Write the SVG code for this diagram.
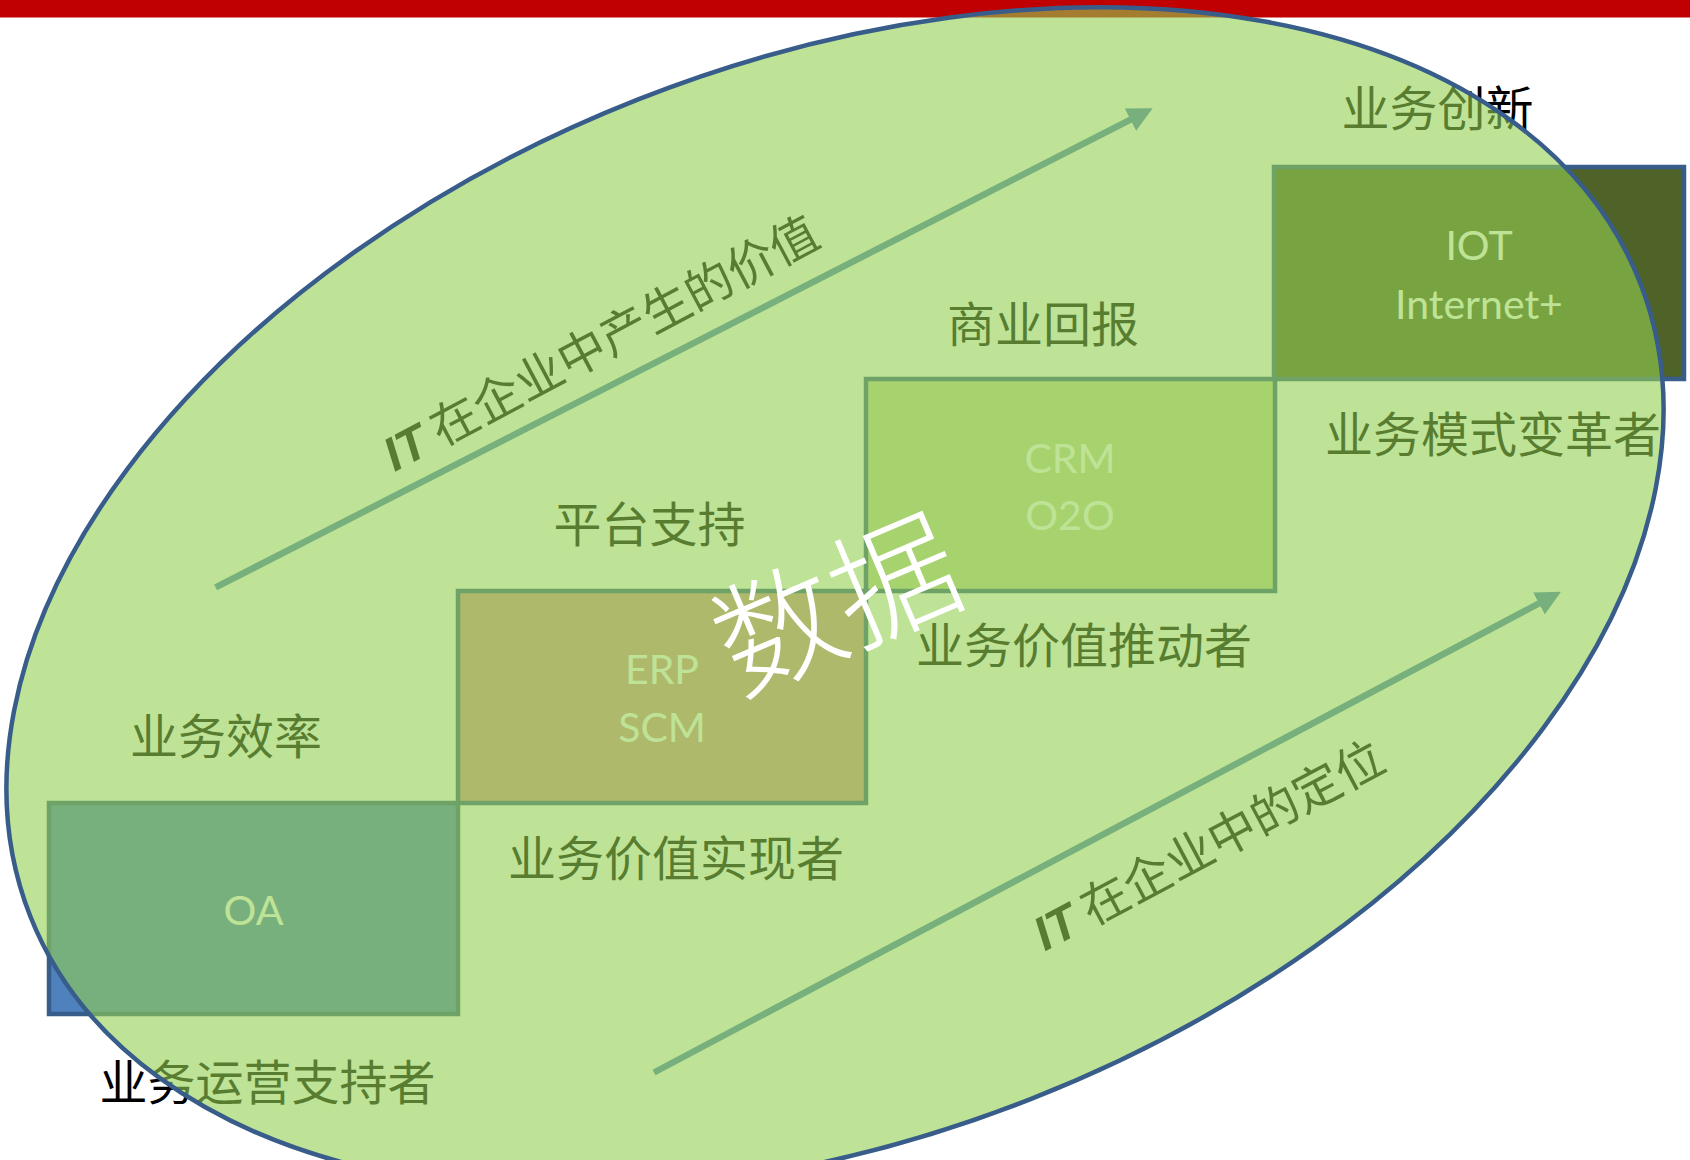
<svg xmlns="http://www.w3.org/2000/svg" width="1690" height="1160" viewBox="0 0 1690 1160">
  <defs>
    <style>
      .box { stroke:#385D8A; stroke-width:4.5; }
      .bt { font-family: Lato, 'Open Sans', sans-serif; font-size:41px; fill:#ffffff; text-anchor:middle; }
      .lbl { font-family: 'Noto Sans CJK SC', sans-serif; font-size:48px; fill:#000000; text-anchor:middle; }
      .it { font-family: 'Liberation Sans', sans-serif; font-weight:bold; font-style:italic; }
      .arr { stroke:#4F81BD; stroke-width:6.5; fill:none; marker-end:url(#ah); }
    </style>
    <marker id="ah" viewBox="0 -13 26 26" markerUnits="userSpaceOnUse" markerWidth="26" markerHeight="26" refX="5" refY="0" orient="auto">
      <path d="M0,-12.5 L25,0 L0,12.5 z" fill="#4F81BD"/>
    </marker>
  </defs>

  <rect id="topbar" x="0" y="0" width="1690" height="17.5" fill="#C00000"/>

  <g id="node-oa">
    <rect class="box" x="49" y="803" width="409" height="211" fill="#4F81BD"/>
    <text class="bt" x="253.5" y="925">OA</text>
  </g>
  <g id="node-erp">
    <rect class="box" x="458" y="591" width="408" height="212" fill="#D99694"/>
    <text class="bt" x="662" y="684">ERP</text>
    <text class="bt" x="662" y="742">SCM</text>
  </g>
  <g id="node-crm">
    <rect class="box" x="866" y="379" width="409" height="212" fill="#C3D69B"/>
    <text class="bt" x="1070" y="473">CRM</text>
    <text class="bt" x="1070" y="530">O2O</text>
  </g>
  <g id="node-iot">
    <rect class="box" x="1274" y="167" width="410" height="212" fill="#4F6228"/>
    <text class="bt" x="1479" y="260">IOT</text>
    <text class="bt" x="1479" y="319">Internet+</text>
  </g>

  <g id="labels">
    <text class="lbl" x="1437.5" y="126">业务创新</text>
    <text class="lbl" x="1043" y="341.5">商业回报</text>
    <text class="lbl" x="1493" y="452">业务模式变革者</text>
    <text class="lbl" x="649.5" y="542">平台支持</text>
    <text class="lbl" x="1084" y="662.5">业务价值推动者</text>
    <text class="lbl" x="226" y="754">业务效率</text>
    <text class="lbl" x="676" y="875.5">业务价值实现者</text>
    <text class="lbl" x="267.5" y="1100">业务运营支持者</text>
    <text class="lbl" transform="translate(600,342) rotate(-28)" x="0" y="18.5"><tspan class="it">IT</tspan> 在企业中产生的价值</text>
    <text class="lbl" transform="translate(1208,844) rotate(-28)" x="0" y="18.5"><tspan class="it">IT</tspan> 在企业中的定位</text>
  </g>

  <g id="connectors">
    <line class="arr" x1="215.6" y1="587.4" x2="1134.9" y2="117.4"/>
    <line class="arr" x1="654" y1="1072.5" x2="1543.3" y2="601.1"/>
  </g>

  <g id="node-data">
    <ellipse cx="0" cy="0" rx="865" ry="537" transform="translate(835,599) rotate(-21.5)" fill="#92D050" fill-opacity="0.6" stroke="#385D8A" stroke-width="4.5"/>
    <text transform="translate(836,603) rotate(-23)" x="0" y="48" text-anchor="middle" font-family="'Noto Sans CJK SC', sans-serif" font-size="126" font-weight="300" fill="#ffffff">数据</text>
  </g>
</svg>
